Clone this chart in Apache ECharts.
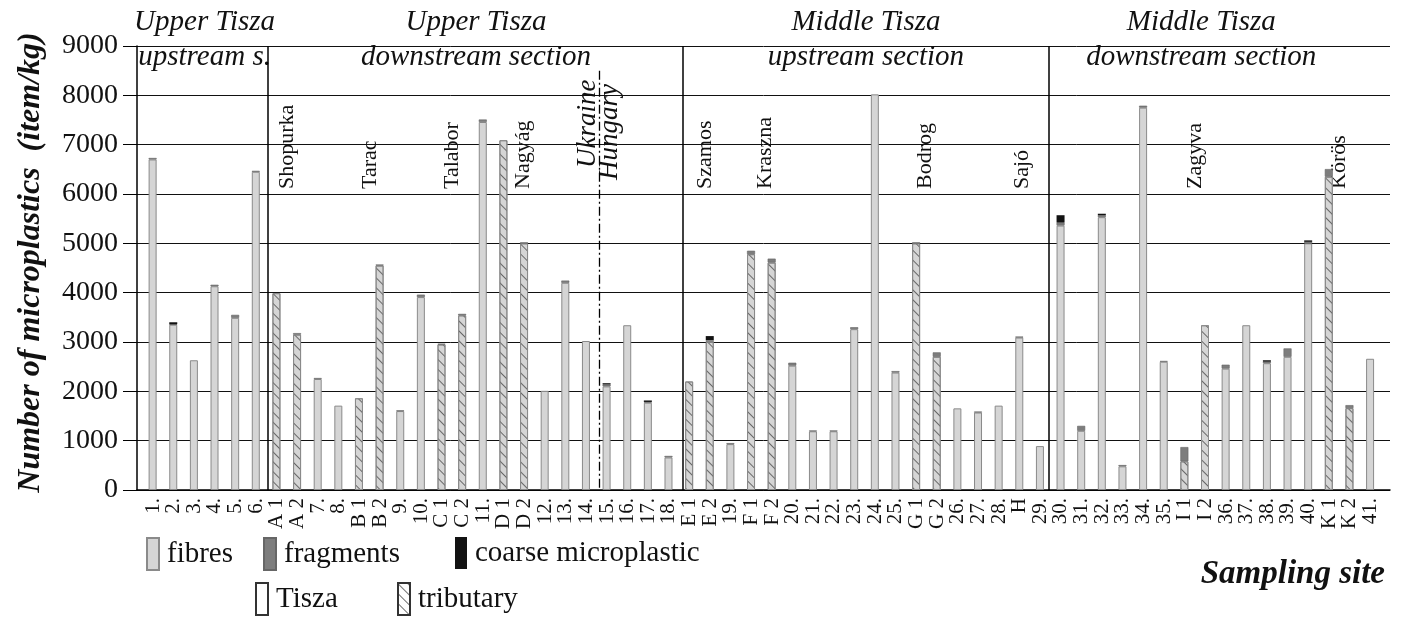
<!DOCTYPE html>
<html><head><meta charset="utf-8">
<script src="https://cdn.jsdelivr.net/npm/echarts@6/dist/echarts.min.js"></script>
<style>html,body{margin:0;padding:0;background:#fff}#c{width:1405px;height:625px}</style>
</head><body><div id="c"></div>
<script>
// ---------- data ----------
const sites = ['1.','2.','3.','4.','5.','6.','A 1','A 2','7.','8.','B 1','B 2','9.','10.','C 1','C 2','11.','D 1','D 2','12.','13.','14.','15.','16.','17.','18.','E 1','E 2','19.','F 1','F 2','20.','21.','22.','23.','24.','25.','G 1','G 2','26.','27.','28.','H','29.','30.','31.','32.','33.','34.','35.','I 1','I 2','36.','37.','38.','39.','40.','K 1','K 2','41.'];
const fibres = [6700,3350,2630,4130,3490,6450,3990,3150,2250,1710,
  1860,4550,1600,3910,2950,3540,7460,7090,5000,2010,
  4200,3020,2100,3340,1770,660,2200,3000,930,4780,
  4610,2520,1190,1190,3260,8020,2380,5000,2700,1655,
  1570,1710,3090,890,5360,1200,5530,480,7750,2600,
  580,3340,2460,3340,2570,2700,5000,6350,1660,2660];
const fragments = [30,10,0,30,60,20,0,30,20,0,
  0,20,15,50,15,30,50,0,20,0,
  45,0,40,0,15,30,0,40,20,70,
  80,60,15,15,40,0,30,20,90,0,
  20,0,20,0,60,100,40,25,40,15,
  290,0,80,0,30,170,30,155,60,0];
const coarse = [0,40,0,0,0,0,0,0,0,0,
  0,0,0,0,0,0,0,0,0,0,
  0,0,25,0,30,0,0,80,0,0,
  0,0,0,0,0,0,0,0,0,0,
  0,0,0,0,150,0,30,0,0,0,
  0,0,0,0,30,0,30,0,0,0];
const tributarySites = ['A 1','A 2','B 1','B 2','C 1','C 2','D 1','D 2','E 1','E 2','F 1','F 2','G 1','G 2','I 1','I 2','K 1','K 2'];
const yTicks = [0,1000,2000,3000,4000,5000,6000,7000,8000,9000];
// section boundaries / titles (in category units, 0 = left edge of first site)
const sectionBreaks = [6.07, 26.18, 43.92];
const borderPos = 22.11;
const sectionTitles = [
  {pos: 3.0, l1: 'Upper Tisza', l2: 'upstream s.'},
  {pos: 16.15, l1: 'Upper Tisza', l2: 'downstream section'},
  {pos: 35.05, l1: 'Middle Tisza', l2: 'upstream section'},
  {pos: 51.3, l1: 'Middle Tisza', l2: 'downstream section'}
];
const riverNames = ['Shopurka','Tarac','Talabor','Nagyág','Szamos','Kraszna','Bodrog','Sajó','Zagyva','Körös'];
const riverPos = [6.99, 11.02, 14.99, 18.43, 27.25, 30.15, 37.9, 42.6, 51.0, 58.0];
const borderNames = ['Ukraine', 'Hungary'];
const borderNamePos = [21.58, 22.65];
const borderNameBase = [168, 180];

// ---------- styles ----------
const SERIF = '"Liberation Serif", "DejaVu Serif", serif';
const hatch = {symbol: 'rect', symbolSize: 1, color: 'rgba(85,85,85,0.85)', dashArrayX: [1, 0], dashArrayY: [1, 6], rotation: Math.PI / 4};
const nz = v => (v === 0 ? '-' : v);

const fibreData = fibres.map((v, i) => {
  const trib = tributarySites.includes(sites[i]);
  return trib ? {value: v, itemStyle: {decal: hatch}} : v;
});

const chart = echarts.init(document.getElementById('c'), null, {renderer: 'canvas'});
const G0 = {left: 137, right: 15, top: 46, bottom: 135};
const G1 = {left: 142.7, right: 24.2, top: 46, bottom: 135};

const option = {
  animation: false,
  backgroundColor: '#fff',
  textStyle: {fontFamily: SERIF},
  grid: [G0, G1],
  xAxis: [
    {gridIndex: 0, type: 'value', min: 0, max: 1, show: true, axisLine: {show: true, lineStyle: {color: '#000', width: 1.5}}, axisTick: {show: false}, axisLabel: {show: false}, splitLine: {show: false}},
    {gridIndex: 1, type: 'category', data: sites, axisLine: {show: false}, axisTick: {show: false},
      axisLabel: {rotate: 90, interval: 0, fontFamily: SERIF, fontSize: 21, color: '#111', margin: 8}},
    {gridIndex: 1, type: 'value', min: 0, max: 60, show: false}
  ],
  yAxis: [
    {gridIndex: 0, type: 'value', min: 0, max: 9000, interval: 1000,
      axisLine: {show: true, lineStyle: {color: '#000', width: 1.5}},
      axisTick: {show: true, inside: false, length: 14, lineStyle: {color: '#000', width: 1}},
      axisLabel: {fontFamily: SERIF, fontSize: 28, color: '#111', margin: 19,
        formatter: v => (yTicks.includes(v) ? String(v) : '')},
      splitLine: {show: true, lineStyle: {color: '#111', width: 1}},
      name: 'Number of microplastics  (item/kg)', nameLocation: 'middle', nameRotate: 90, nameGap: 90,
      nameTextStyle: {fontFamily: SERIF, fontSize: 32, fontWeight: 'bold', fontStyle: 'italic', color: '#111', padding: [0, 0, 0, 11]}},
    {gridIndex: 1, type: 'value', min: 0, max: 9000, show: false}
  ],
  legend: [
    {data: ['fibres'], left: 146, top: 537},
    {data: ['fragments'], left: 263, top: 537},
    {data: ['coarse microplastic'], left: 455, top: 537},
    {data: ['Tisza'], left: 255, top: 582},
    {data: ['tributary'], left: 397, top: 582}
  ].map(l => Object.assign({icon: 'rect', itemWidth: 12, itemHeight: 32, itemGap: 0, padding: 0, selectedMode: false,
      textStyle: {fontFamily: SERIF, fontSize: 29, color: '#111', padding: [0, 0, 0, 3]}}, l)),
  series: [
    {name: 'fibres', type: 'bar', xAxisIndex: 1, yAxisIndex: 1, stack: 's', barWidth: 8, data: fibreData,
      itemStyle: {color: '#d5d5d5', borderColor: '#8a8a8a', borderWidth: 1}},
    {name: 'fragments', type: 'bar', xAxisIndex: 1, yAxisIndex: 1, stack: 's', barWidth: 8, data: fragments.map(nz),
      itemStyle: {color: '#7d7d7d', borderColor: '#666', borderWidth: 0.6}},
    {name: 'coarse microplastic', type: 'bar', xAxisIndex: 1, yAxisIndex: 1, stack: 's', barWidth: 8, data: coarse.map(nz),
      itemStyle: {color: '#121212'}},
    {name: 'Tisza', type: 'bar', xAxisIndex: 1, yAxisIndex: 1, data: [],
      itemStyle: {color: '#fff', borderColor: '#333', borderWidth: 1}},
    {name: 'tributary', type: 'bar', xAxisIndex: 1, yAxisIndex: 1, data: [],
      itemStyle: {color: '#fff', borderColor: '#333', borderWidth: 1, decal: hatch}},
    {name: 'annot', type: 'scatter', xAxisIndex: 2, yAxisIndex: 1, data: [], silent: true,
      markLine: {symbol: 'none', silent: true, label: {show: false},
        data: sectionBreaks.map(v => ({xAxis: v, lineStyle: {color: '#000', width: 1.5, type: 'solid'}})).concat([
          [{coord: [borderPos, 8500], lineStyle: {color: '#000', width: 1.3, type: [9, 3, 2, 3]}}, {coord: [borderPos, 0]}]
        ])}}
  ]
};
chart.setOption(option);

// ---------- text annotations positioned through the axes ----------
const px = v => chart.convertToPixel({xAxisIndex: 2}, v);
const graphics = [];
sectionTitles.forEach(t => {
  const x = px(t.pos);
  graphics.push({type: 'text', x: x, y: 22, style: {text: t.l1, font: 'italic 29px ' + SERIF, fill: '#111', align: 'center', verticalAlign: 'middle'}});
  graphics.push({type: 'text', x: x, y: 57, style: {text: t.l2, font: 'italic 29px ' + SERIF, fill: '#111', align: 'center', verticalAlign: 'middle'}});
});
riverNames.forEach((n, i) => {
  graphics.push({type: 'text', x: px(riverPos[i]), y: 189, rotation: Math.PI / 2,
    style: {text: n, font: '22px ' + SERIF, fill: '#111', align: 'left', verticalAlign: 'middle'}});
});
borderNames.forEach((n, i) => {
  graphics.push({type: 'text', x: px(borderNamePos[i]), y: borderNameBase[i], rotation: Math.PI / 2,
    style: {text: n, font: 'italic 27px ' + SERIF, fill: '#111', align: 'left', verticalAlign: 'middle'}});
});
graphics.push({type: 'text', right: 20, top: 558, style: {text: 'Sampling site', font: 'bold italic 33px ' + SERIF, fill: '#111'}});
chart.setOption({graphic: graphics});
</script></body></html>
